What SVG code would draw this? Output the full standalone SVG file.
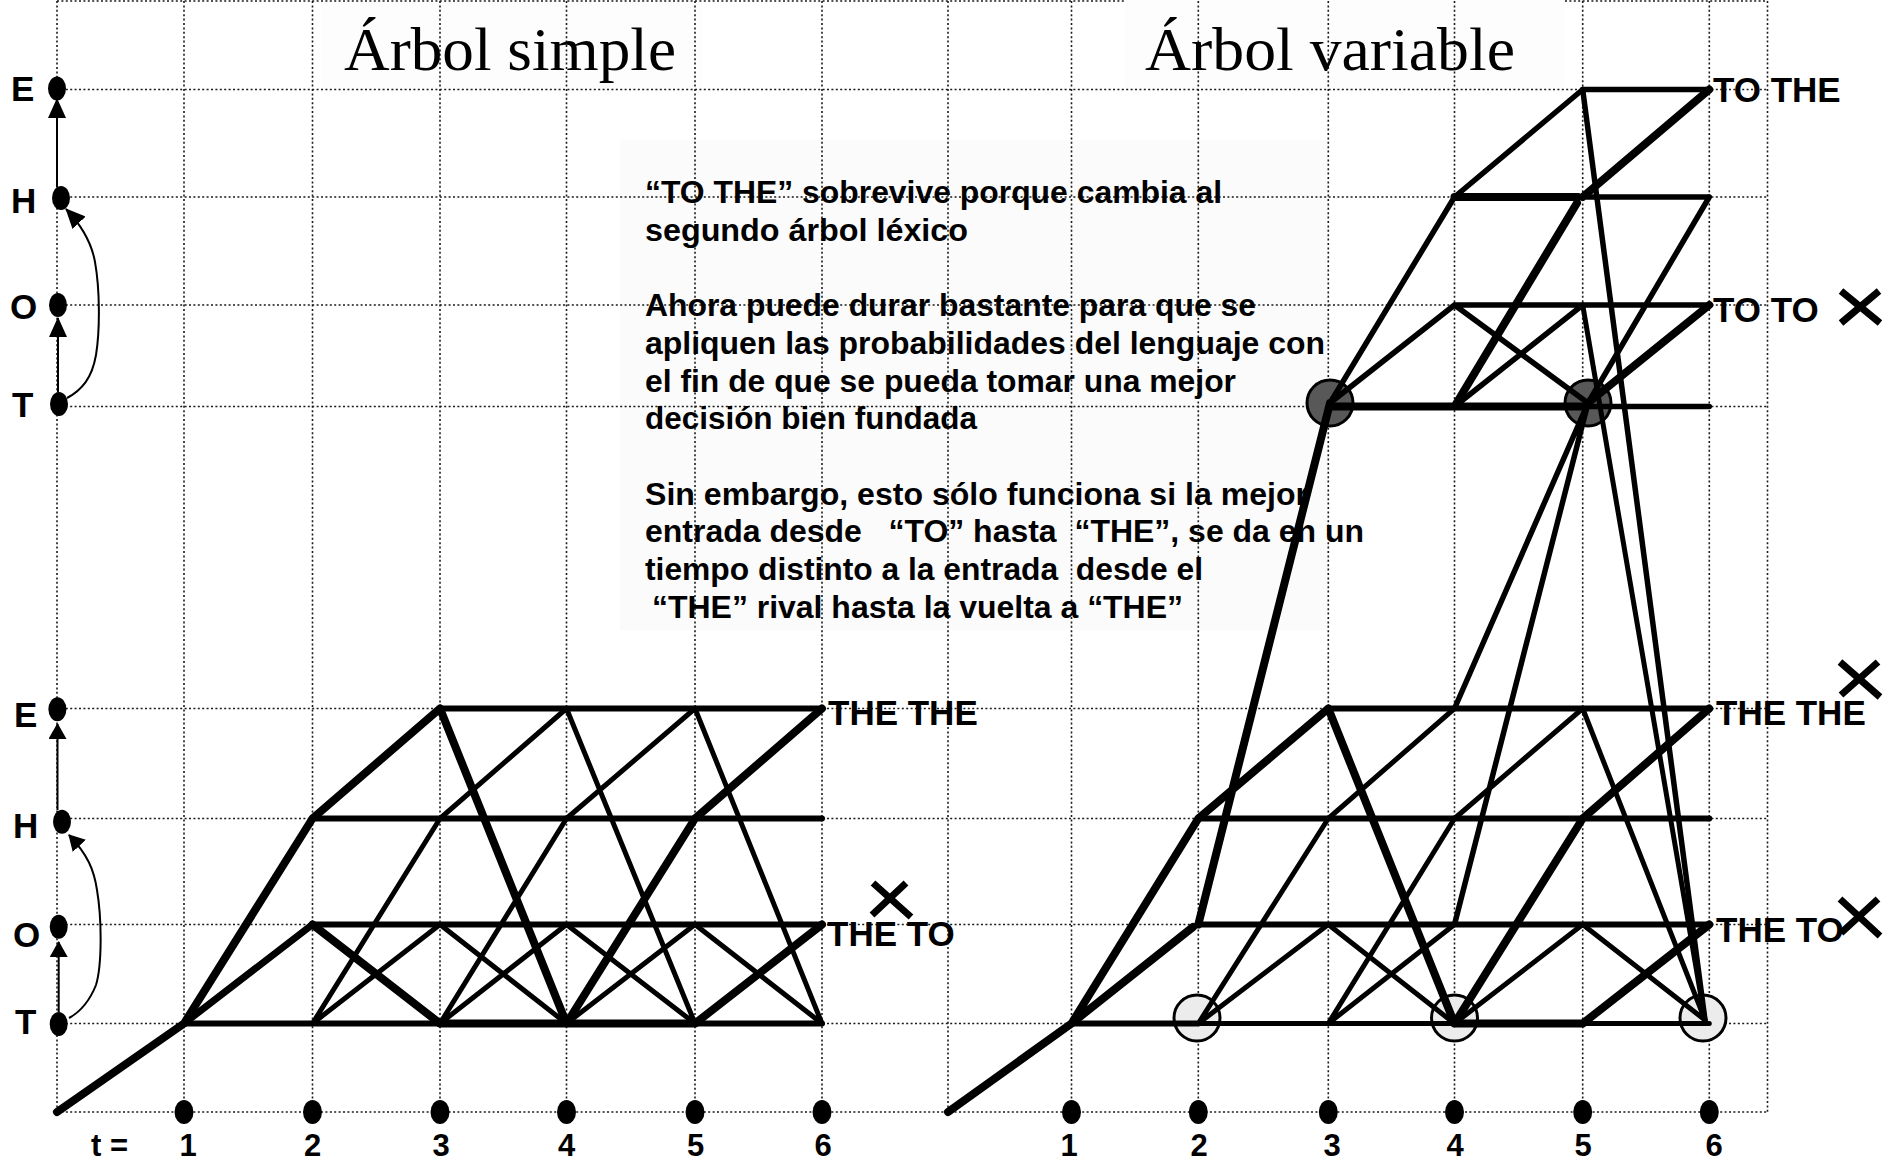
<svg xmlns="http://www.w3.org/2000/svg" width="1894" height="1165" viewBox="0 0 1894 1165">
<defs>
<style>
.grid{stroke:#1a1a1a;stroke-width:1.6;stroke-dasharray:2 2.4;fill:none}
.ln{stroke:#000;stroke-linecap:round;fill:none}
.t{stroke-width:5}.m{stroke-width:6}.k{stroke-width:8}
.dot{fill:#000}
.lbl{font-family:"Liberation Sans",Arial,sans-serif;font-weight:bold;font-size:35px;fill:#000}
.num{font-family:"Liberation Sans",Arial,sans-serif;font-weight:bold;font-size:31px;fill:#000;text-anchor:middle}
.para{font-family:"Liberation Sans",Arial,sans-serif;font-weight:bold;font-size:31px;fill:#000;white-space:pre}
.title{font-family:"Liberation Serif","Times New Roman",serif;font-size:62px;fill:#000}
.arr{stroke:#000;stroke-width:2;fill:none}
.xm{stroke:#000;stroke-width:7;fill:none}
.dk{fill:#585858;stroke:#000;stroke-width:3}
.lt{fill:#ececec;stroke:#000;stroke-width:3}
</style>
<marker id="ah" viewBox="0 0 20 18" refX="19" refY="9" markerWidth="20" markerHeight="18" markerUnits="userSpaceOnUse" orient="auto"><path d="M0,0 L20,9 L0,18 z" fill="#000"/></marker>
<marker id="ah2" viewBox="0 0 16 18" refX="15" refY="9" markerWidth="16" markerHeight="18" markerUnits="userSpaceOnUse" orient="auto"><path d="M0,0 L16,9 L0,18 z" fill="#000"/></marker>
</defs>
<rect width="1894" height="1165" fill="#fff"/>
<g id="backgrounds">
<rect x="322" y="0" width="380" height="88" fill="#fdfdfd"/>
<rect x="1125" y="0" width="440" height="88" fill="#fdfdfd"/>
<rect x="620" y="140" width="708" height="490" fill="#fbfbfb"/>
</g>
<g id="grid">
<path class="grid" d="M57,1V1112M184,1V1112M312.5,1V1112M440,1V1112M566.5,1V1112M695,1V1112M822,1V1112M948,1V1112M1071.5,1V1112M1198.3,1V1112M1328.3,1V1112M1454.5,1V1112M1582.7,1V1112M1709.3,1V1112M1767.5,1V1112"/>
<path class="grid" d="M57,1H1125M1565,1H1767.5M57,89.5H1767.5M57,197H1767.5M57,305H1767.5M57,406.5H1767.5M57,708.5H1767.5M57,818.5H1767.5M57,924.5H1767.5M57,1023.5H1767.5M57,1112H1767.5"/>
</g>
<g id="titles">
<text class="title" x="344" y="70" textLength="332" lengthAdjust="spacingAndGlyphs">Árbol simple</text>
<text class="title" x="1145" y="70" textLength="370" lengthAdjust="spacingAndGlyphs">Árbol variable</text>
</g>
<g id="note">
<text class="para" x="645" y="203" textLength="577" lengthAdjust="spacingAndGlyphs">“TO THE” sobrevive porque cambia al</text>
<text class="para" x="645" y="240.7" textLength="323" lengthAdjust="spacingAndGlyphs">segundo árbol léxico</text>
<text class="para" x="645" y="316" textLength="611" lengthAdjust="spacingAndGlyphs">Ahora puede durar bastante para que se</text>
<text class="para" x="645" y="353.8" textLength="680" lengthAdjust="spacingAndGlyphs">apliquen las probabilidades del lenguaje con</text>
<text class="para" x="645" y="391.5" textLength="591" lengthAdjust="spacingAndGlyphs">el fin de que se pueda tomar una mejor</text>
<text class="para" x="645" y="429.2" textLength="332" lengthAdjust="spacingAndGlyphs">decisión bien fundada</text>
<text class="para" x="645" y="504.6" textLength="663" lengthAdjust="spacingAndGlyphs">Sin embargo, esto sólo funciona si la mejor</text>
<text class="para" x="645" y="542.3" textLength="719" lengthAdjust="spacingAndGlyphs">entrada desde   “TO” hasta  “THE”, se da en un</text>
<text class="para" x="645" y="580" textLength="558" lengthAdjust="spacingAndGlyphs">tiempo distinto a la entrada  desde el</text>
<text class="para" x="652" y="617.7" textLength="531" lengthAdjust="spacingAndGlyphs">“THE” rival hasta la vuelta a “THE”</text>
</g>
<g id="legend-top">
<g id="top-E"><ellipse class="dot" cx="57" cy="88.5" rx="9" ry="12"/><text class="lbl" x="11" y="101">E</text></g>
<g id="top-H"><ellipse class="dot" cx="61" cy="198" rx="9" ry="12"/><text class="lbl" x="11" y="213">H</text></g>
<g id="top-O"><ellipse class="dot" cx="58" cy="305" rx="9" ry="12"/><text class="lbl" x="10" y="319">O</text></g>
<g id="top-T"><ellipse class="dot" cx="59" cy="404" rx="9" ry="12"/><text class="lbl" x="12" y="417">T</text></g>
</g>
<g id="legend-bottom">
<g id="bot-E"><ellipse class="dot" cx="57.4" cy="709.3" rx="9" ry="12"/><text class="lbl" x="14" y="727">E</text></g>
<g id="bot-H"><ellipse class="dot" cx="62" cy="821.7" rx="9" ry="12"/><text class="lbl" x="13" y="838">H</text></g>
<g id="bot-O"><ellipse class="dot" cx="58.7" cy="926.7" rx="9" ry="12"/><text class="lbl" x="13" y="947">O</text></g>
<g id="bot-T"><ellipse class="dot" cx="58.7" cy="1024" rx="9" ry="12"/><text class="lbl" x="15" y="1034">T</text></g>
</g>
<g id="axis-left">
<ellipse class="dot" cx="184" cy="1112" rx="9.5" ry="12"/><ellipse class="dot" cx="312.5" cy="1112" rx="9.5" ry="12"/><ellipse class="dot" cx="440" cy="1112" rx="9.5" ry="12"/><ellipse class="dot" cx="566.5" cy="1112" rx="9.5" ry="12"/><ellipse class="dot" cx="695" cy="1112" rx="9.5" ry="12"/><ellipse class="dot" cx="822" cy="1112" rx="9.5" ry="12"/>
<text class="lbl" x="91" y="1156" style="font-size:31px">t =</text>
<text class="num" x="188" y="1156">1</text><text class="num" x="312.5" y="1156">2</text><text class="num" x="441" y="1156">3</text><text class="num" x="566.5" y="1156">4</text><text class="num" x="695.5" y="1156">5</text><text class="num" x="823" y="1156">6</text>
</g>
<g id="axis-right">
<ellipse class="dot" cx="1071.5" cy="1112" rx="9.5" ry="12"/><ellipse class="dot" cx="1198.3" cy="1112" rx="9.5" ry="12"/><ellipse class="dot" cx="1328.3" cy="1112" rx="9.5" ry="12"/><ellipse class="dot" cx="1454.5" cy="1112" rx="9.5" ry="12"/><ellipse class="dot" cx="1582.7" cy="1112" rx="9.5" ry="12"/><ellipse class="dot" cx="1709.3" cy="1112" rx="9.5" ry="12"/>
<text class="num" x="1069" y="1156">1</text><text class="num" x="1199" y="1156">2</text><text class="num" x="1332" y="1156">3</text><text class="num" x="1455" y="1156">4</text><text class="num" x="1583" y="1156">5</text><text class="num" x="1714" y="1156">6</text>
</g>
<g id="merge-nodes">
<circle id="n-top-T3" class="dk" cx="1330" cy="403" r="23"/>
<circle id="n-top-T5" class="dk" cx="1588" cy="403" r="23"/>
<circle id="n-bot-T2" class="lt" cx="1197" cy="1018" r="23"/>
<circle id="n-bot-T4" class="lt" cx="1454.5" cy="1018" r="23"/>
<circle id="n-bot-T6" class="lt" cx="1703" cy="1018" r="23"/>
</g>
<g id="connectors">
<g id="legend-arrows">
<path class="arr" d="M57,187 V99" marker-end="url(#ah)"/>
<path class="arr" d="M58,392 V318" marker-end="url(#ah)"/>
<path class="arr" d="M67,398 C82,390 92,378 96,355 C100,330 100,290 95,262 C92,245 84,228 66,209" marker-end="url(#ah)"/>
<path class="arr" d="M57.5,810 V724" marker-end="url(#ah2)"/>
<path class="arr" d="M58.7,1012 V942" marker-end="url(#ah2)"/>
<path class="arr" d="M69,1018 C80,1012 90,1000 96,985 C102,965 102,920 97,890 C94,870 88,855 69,835" marker-end="url(#ah2)"/>
</g>
<g id="simple-tree">
<path class="ln k" d="M57,1112L184,1023.5M184,1023.5L312.5,818.5M312.5,818.5L440,708.5M312.5,924.5L440,1023.5M440,708.5L566.5,1023.5M566.5,1023.5L695,818.5M695,818.5L822,708.5M695,1023.5L822,924.5M440,1023.5L695,1023.5"/>
<path class="ln" style="stroke-width:7" d="M184,1023.5L312.5,924.5"/>
<path class="ln m" d="M440,708.5L822,708.5M312.5,924.5L822,924.5M184,1023.5L440,1023.5M695,1023.5L822,1023.5M312.5,818.5L822,818.5"/>
<path class="ln t" d="M312.5,1023.5L440,924.5M312.5,1023.5L440,818.5M440,818.5L566.5,708.5M440,924.5L566.5,1023.5M440,1023.5L566.5,924.5M440,1023.5L566.5,818.5M566.5,818.5L695,708.5M566.5,708.5L695,1023.5M566.5,924.5L695,1023.5M566.5,1023.5L695,924.5M695,708.5L822,1023.5M695,924.5L822,1023.5"/>
</g>
<g id="variable-tree-bottom">
<path class="ln k" d="M948,1112L1071.5,1023.5M1071.5,1023.5L1193,927M1071.5,1023.5L1198.3,818.5M1198.3,818.5L1328.3,708.5M1330,403L1198.3,924.5M1328.3,708.5L1454.5,1023.5M1454.5,1023.5L1582.7,818.5M1582.7,818.5L1709.3,708.5M1582.7,1023.5L1709.3,924.5M1454.5,1023.5L1582.7,1023.5"/>
<path class="ln m" d="M1071.5,1023.5L1198.3,1023.5M1328.3,708.5L1709.3,708.5M1198.3,924.5L1709.3,924.5M1198.3,818.5L1709.3,818.5"/>
<path class="ln t" d="M1198.3,1023.5L1454.5,1023.5M1582.7,1023.5L1709.3,1023.5M1198.3,1023.5L1328.3,818.5M1198.3,1023.5L1328.3,924.5M1328.3,818.5L1454.5,708.5M1328.3,924.5L1454.5,1023.5M1328.3,1023.5L1454.5,924.5M1328.3,1023.5L1454.5,818.5M1454.5,1023.5L1582.7,924.5M1454.5,818.5L1582.7,708.5M1582.7,708.5L1705,1020M1582.7,924.5L1705,1020"/>
</g>
<g id="cross-links">
<path class="ln" style="stroke-width:5.5" d="M1588,403L1454.5,708.5M1588,403L1454.5,924.5M1582.7,89.5L1705,1020"/>
<path class="ln t" d="M1582.7,305L1705,1020"/>
</g>
<g id="variable-tree-top">
<path class="ln k" d="M1330,406.5L1582.7,406.5M1454.5,197L1578,197M1582.7,197L1709.3,89.5M1454.5,406.5L1577,203M1588,403L1709.3,305"/>
<path class="ln" style="stroke-width:5.5" d="M1582.7,406.5L1709.3,406.5M1454.5,305L1709.3,305M1587,197L1709.3,197M1582.7,89.5L1709.3,89.5M1330,403L1454.5,197M1330,403L1454.5,305M1454.5,197L1582.7,89.5M1454.5,305L1588,403M1454.5,406.5L1582.7,305M1588,403L1709.3,197"/>
</g>
</g>
<g id="end-labels">
<text class="lbl" x="828" y="725">THE THE</text>
<text class="lbl" x="827" y="946">THE TO</text>
<path class="xm" d="M873,883L911,917M906,883L872,915"/>
<text class="lbl" x="1713" y="102">TO THE</text>
<text class="lbl" x="1713" y="322">TO TO</text>
<path class="xm" d="M1841,291L1880,323M1879,291L1841,323"/>
<text class="lbl" x="1716" y="725">THE THE</text>
<path class="xm" d="M1840,662L1880,697M1878,662L1841,695"/>
<text class="lbl" x="1716" y="942">THE TO</text>
<path class="xm" d="M1840,899L1880,936M1878,899L1841,933"/>
</g>
</svg>
